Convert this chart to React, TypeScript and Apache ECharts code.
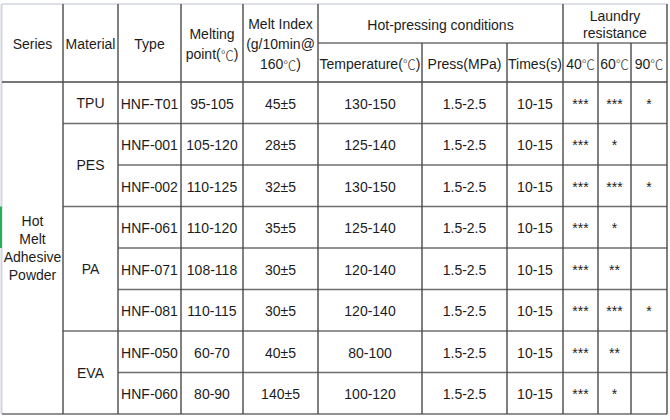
import React, { useEffect, useRef } from "react";
import * as echarts from "echarts";

// ---- data ----
const seriesName = ["Hot", "Melt", "Adhesive", "Powder"];
const materials = ["TPU", "PES", "PA", "EVA"];
const materialSpans = [1, 2, 3, 2];
const types = ["HNF-T01", "HNF-001", "HNF-002", "HNF-061", "HNF-071", "HNF-081", "HNF-050", "HNF-060"];
const meltingPoints = ["95-105", "105-120", "110-125", "110-120", "108-118", "110-115", "60-70", "80-90"];
const meltIndex = ["45±5", "28±5", "32±5", "35±5", "30±5", "30±5", "40±5", "140±5"];
const temperatures = ["130-150", "125-140", "130-150", "125-140", "120-140", "120-140", "80-100", "100-120"];
const presses = ["1.5-2.5", "1.5-2.5", "1.5-2.5", "1.5-2.5", "1.5-2.5", "1.5-2.5", "1.5-2.5", "1.5-2.5"];
const times = ["10-15", "10-15", "10-15", "10-15", "10-15", "10-15", "10-15", "10-15"];
const laundry40 = ["***", "***", "***", "***", "***", "***", "***", "***"];
const laundry60 = ["***", "*", "***", "*", "**", "***", "**", "*"];
const laundry90 = ["*", "", "*", "", "", "*", "", ""];

const topHeaders = ["Series", "Material", "Type", "Melting\npoint(℃)", "Melt Index\n(g/10min@\n160℃)"];
const groupHeaders = ["Hot-pressing conditions", "Laundry\nresistance"];
const subHeaders = ["Temperature(℃)", "Press(MPa)", "Times(s)", "40℃", "60℃", "90℃"];

// ---- layout ----
const colX = [2, 63, 118, 181, 243, 318, 422, 507, 563, 598, 631, 667];
const headerY = [4, 43, 82];
const bodyTop = 82;
const bodyBottom = 414;
const FONT = "Liberation Sans, Arial, sans-serif";
const CJK = "Noto Sans CJK SC, sans-serif";
const TEXT = "#1c1c1c";
const VLINE = "#4a4a4a";
const HLINE = "#6e6e6e";
const LIGHT = "#d2d6df";

function buildGraphics() {
  const els: any[] = [];
  const nRows = types.length;
  const rowH = (bodyBottom - bodyTop) / nRows;
  const rowY = (i: number) => bodyTop + i * rowH;
  const cx = (c: number) => (colX[c] + colX[c + 1]) / 2;

  const line = (x1: number, y1: number, x2: number, y2: number, color: string, w = 1.4) =>
    els.push({ type: "line", shape: { x1, y1, x2, y2 }, style: { stroke: color, lineWidth: w }, silent: true });
  const text = (s: string, x: number, y: number, lh = 19, size = 14) => {
    const hasDeg = s.includes("℃");
    const content = hasDeg
      ? s
          .split("\n")
          .map((ln) => ln.split("℃").map((p) => (p ? `{n|${p}}` : "")).join("{c|℃}"))
          .join("\n")
      : s;
    els.push({
      type: "text",
      x,
      y,
      style: {
        text: content,
        fill: TEXT,
        fontSize: size,
        fontFamily: FONT,
        align: "center",
        verticalAlign: "middle",
        lineHeight: lh,
        rich: hasDeg
          ? {
              n: { fontSize: size, fontFamily: FONT, fill: TEXT, lineHeight: lh },
              c: { fontSize: size - 1, fontFamily: CJK, fill: "#333", lineHeight: lh, fontWeight: 300 },
            }
          : undefined,
      },
      silent: true,
    });
  };

  // background
  els.push({ type: "rect", shape: { x: 0, y: 0, width: 670, height: 420 }, style: { fill: "#ffffff" }, silent: true });

  // light outer borders
  line(colX[0], headerY[0], colX[11], headerY[0], LIGHT, 1.5);
  line(colX[0] - 0.5, headerY[0], colX[0] - 0.5, bodyBottom, LIGHT, 2);
  // green marker
  els.push({ type: "rect", shape: { x: 0, y: rowY(3), width: 2, height: rowH }, style: { fill: "#22b35a" }, silent: true });

  // horizontal header lines
  line(colX[5], headerY[1], colX[11], headerY[1], HLINE);
  line(colX[0], headerY[2], colX[11], headerY[2], VLINE);

  // horizontal body lines
  const groupEnds: number[] = [];
  let acc = 0;
  materialSpans.forEach((s) => {
    acc += s;
    groupEnds.push(acc);
  });
  for (let r = 1; r <= nRows; r++) {
    const y = rowY(r);
    const startX = r === nRows ? colX[0] : groupEnds.includes(r) ? colX[1] : colX[2];
    line(startX, y, colX[11], y, HLINE);
  }

  // vertical lines
  const fromTop = [1, 2, 3, 4, 5, 8, 11];
  const fromMid = [6, 7, 9, 10];
  fromTop.forEach((c) => line(colX[c], headerY[0], colX[c], bodyBottom, VLINE));
  fromMid.forEach((c) => line(colX[c], headerY[1], colX[c], bodyBottom, VLINE));

  // header texts
  topHeaders.forEach((h, i) => text(h, cx(i), (headerY[0] + headerY[2]) / 2 + 1, 20));
  text(groupHeaders[0], (colX[5] + colX[8]) / 2, (headerY[0] + headerY[1]) / 2 + 1);
  text(groupHeaders[1], (colX[8] + colX[11]) / 2, (headerY[0] + headerY[1]) / 2 + 1, 17);
  subHeaders.forEach((h, i) => text(h, cx(5 + i), (headerY[1] + headerY[2]) / 2 + 1));

  // series cell
  text(seriesName.join("\n"), cx(0), (bodyTop + bodyBottom) / 2, 18);

  // material cells
  let start = 0;
  materials.forEach((m, i) => {
    const span = materialSpans[i];
    text(m, cx(1), (rowY(start) + rowY(start + span)) / 2);
    start += span;
  });

  // body rows
  const cols = [types, meltingPoints, meltIndex, temperatures, presses, times, laundry40, laundry60, laundry90];
  for (let r = 0; r < nRows; r++) {
    const y = (rowY(r) + rowY(r + 1)) / 2;
    cols.forEach((arr, k) => {
      const v = arr[r];
      if (v) text(v, cx(2 + k), y + 1);
    });
  }
  return els;
}

export default function App() {
  const ref = useRef<HTMLDivElement>(null);
  useEffect(() => {
    const chart = echarts.init(ref.current!, null, { renderer: "svg" });
    chart.setOption({
      animation: false,
      backgroundColor: "#ffffff",
      graphic: { elements: buildGraphics() },
    });
    return () => chart.dispose();
  }, []);
  return <div ref={ref} style={{ position: "fixed", left: 0, top: 0, width: 670, height: 420, background: "#fff" }} />;
}
